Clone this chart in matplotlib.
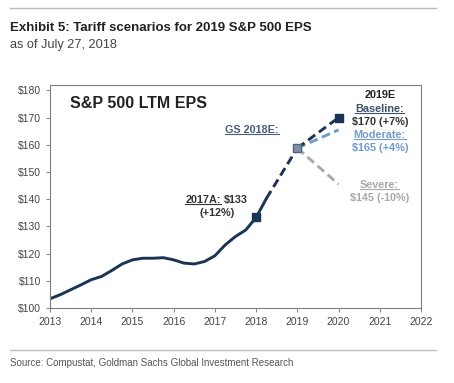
import matplotlib.pyplot as plt
from matplotlib.lines import Line2D

# ==========================================
# DATA
# ==========================================
years_actual = [2013.0, 2013.25, 2013.5, 2013.75, 2014.0, 2014.25, 2014.5, 2014.75,
                2015.0, 2015.25, 2015.5, 2015.75, 2016.0, 2016.25, 2016.5, 2016.75,
                2017.0, 2017.25, 2017.5, 2017.75, 2018.0, 2018.25]
eps_actual = [103.4, 104.9, 106.7, 108.5, 110.4, 111.6, 113.8, 116.2,
              117.7, 118.3, 118.3, 118.5, 117.7, 116.5, 116.2, 117.1,
              119.2, 123.2, 126.3, 128.7, 133.3, 140.3]

gs2018_years = [2018.25, 2019.0]
gs2018_eps = [140.3, 158.8]

scenario_years = [2019.0, 2020.0]
baseline_eps = [158.8, 170.0]
moderate_eps = [158.8, 165.5]
severe_eps = [158.8, 145.5]

x_ticks = list(range(2013, 2023))
y_ticks = list(range(100, 181, 10))

# ==========================================
# STYLE
# ==========================================
NAVY = "#1b3354"
LIGHT_BLUE = "#6f9ccb"
GRAY = "#a9a9a9"
TEXT = "#333333"
plt.rcParams["font.family"] = ["Liberation Sans", "DejaVu Sans"]

fig = plt.figure(figsize=(4.54, 3.83), dpi=100)
ax = fig.add_axes([50 / 454, 1 - 308 / 383, 371 / 454, 223 / 383])

# ==========================================
# PLOT
# ==========================================
dash = (0, (3, 1.6))
ax.plot(years_actual, eps_actual, color=NAVY, linewidth=2.1, solid_capstyle="round")
ax.plot(gs2018_years, gs2018_eps, color=NAVY, linewidth=2.1, linestyle=dash)
ax.plot(scenario_years, severe_eps, color=GRAY, linewidth=2.1, linestyle=dash)
ax.plot(scenario_years, moderate_eps, color=LIGHT_BLUE, linewidth=2.1, linestyle=dash)
ax.plot(scenario_years, baseline_eps, color=NAVY, linewidth=2.1, linestyle=dash)

ax.plot([years_actual[20]], [eps_actual[20]], marker="s", markersize=5.5, color=NAVY)
ax.plot([scenario_years[0]], [baseline_eps[0]], marker="s", markersize=5.5,
        color="#7f8fa6", markeredgecolor="#4d6680")
ax.plot([scenario_years[1]], [baseline_eps[1]], marker="s", markersize=5.5, color=NAVY)

ax.set_xlim(2013, 2022)
ax.set_ylim(100, 182)
ax.set_xticks(x_ticks)
ax.set_xticklabels([str(y) for y in x_ticks])
ax.set_yticks(y_ticks)
ax.set_yticklabels([f"${y}" for y in y_ticks])
ax.tick_params(labelsize=7.5, colors="#888888", labelcolor="#444444", length=3, width=0.8)
for s in ax.spines.values():
    s.set_color("#808080")
    s.set_linewidth(0.8)

# ==========================================
# ANNOTATIONS
# ==========================================
FS = 7.8
ax.text(2013.48, 175.2, "S&P 500 LTM EPS", fontsize=11.5, fontweight="bold",
        color="#222222", va="center", ha="left")

underlined = []
underlined.append(ax.text(2017.9, 165.5, "GS 2018E:", fontsize=FS, fontweight="bold",
                          color="#4a5d78", va="center", ha="center"))
t2017 = ax.text(2016.28, 139.6, "2017A:", fontsize=FS, fontweight="bold",
                color=TEXT, va="center", ha="left")
underlined.append(t2017)
ax.text(2017.05, 134.9, "(+12%)", fontsize=FS, fontweight="bold",
        color=TEXT, va="center", ha="center")

cx = 2021.0
ax.text(cx, 178.5, "2019E", fontsize=FS, fontweight="bold", color="#222222",
        va="center", ha="center")
underlined.append(ax.text(cx, 173.1, "Baseline:", fontsize=FS, fontweight="bold",
                          color="#3d4f6a", va="center", ha="center"))
ax.text(cx, 168.3, "$170 (+7%)", fontsize=FS, fontweight="bold", color=TEXT,
        va="center", ha="center")
underlined.append(ax.text(cx, 163.5, "Moderate:", fontsize=FS, fontweight="bold",
                          color=LIGHT_BLUE, va="center", ha="center"))
ax.text(cx, 158.8, "$165 (+4%)", fontsize=FS, fontweight="bold", color=LIGHT_BLUE,
        va="center", ha="center")
underlined.append(ax.text(cx, 145.4, "Severe:", fontsize=FS, fontweight="bold",
                          color=GRAY, va="center", ha="center"))
ax.text(cx, 140.6, "$145 (-10%)", fontsize=FS, fontweight="bold", color=GRAY,
        va="center", ha="center")

# underline the label words, measured from their rendered extent
fig.canvas.draw()
renderer = fig.canvas.get_renderer()
inv = ax.transData.inverted()
for t in underlined:
    bb = t.get_window_extent(renderer)
    (x0, y0), (x1, _) = inv.transform([(bb.x0, bb.y0 + 1), (bb.x1, bb.y0 + 1)])
    ax.plot([x0, x1], [y0, y0], color=t.get_color(), linewidth=0.8, clip_on=False)

bb = t2017.get_window_extent(renderer)
x_after = inv.transform((bb.x1 + 3, bb.y0))[0]
ax.text(x_after, 139.6, "$133", fontsize=FS, fontweight="bold",
        color=TEXT, va="center", ha="left")

# ==========================================
# HEADER / FOOTER
# ==========================================
fig.add_artist(Line2D([10 / 454, 436 / 454], [1 - 8 / 383] * 2, color="#bbbbbb", linewidth=1))
fig.add_artist(Line2D([10 / 454, 436 / 454], [1 - 350 / 383] * 2, color="#bbbbbb", linewidth=1))
fig.text(10 / 454, 1 - 28 / 383, "Exhibit 5: Tariff scenarios for 2019 S&P 500 EPS",
         fontsize=9.5, fontweight="bold", color="#222222", va="center")
fig.text(10 / 454, 1 - 45 / 383, "as of July 27, 2018", fontsize=9.2,
         color="#444444", va="center")
fig.text(10 / 454, 1 - 363 / 383, "Source: Compustat, Goldman Sachs Global Investment Research",
         fontsize=7, color="#555555", va="center")

plt.savefig("out.png", dpi=100)
